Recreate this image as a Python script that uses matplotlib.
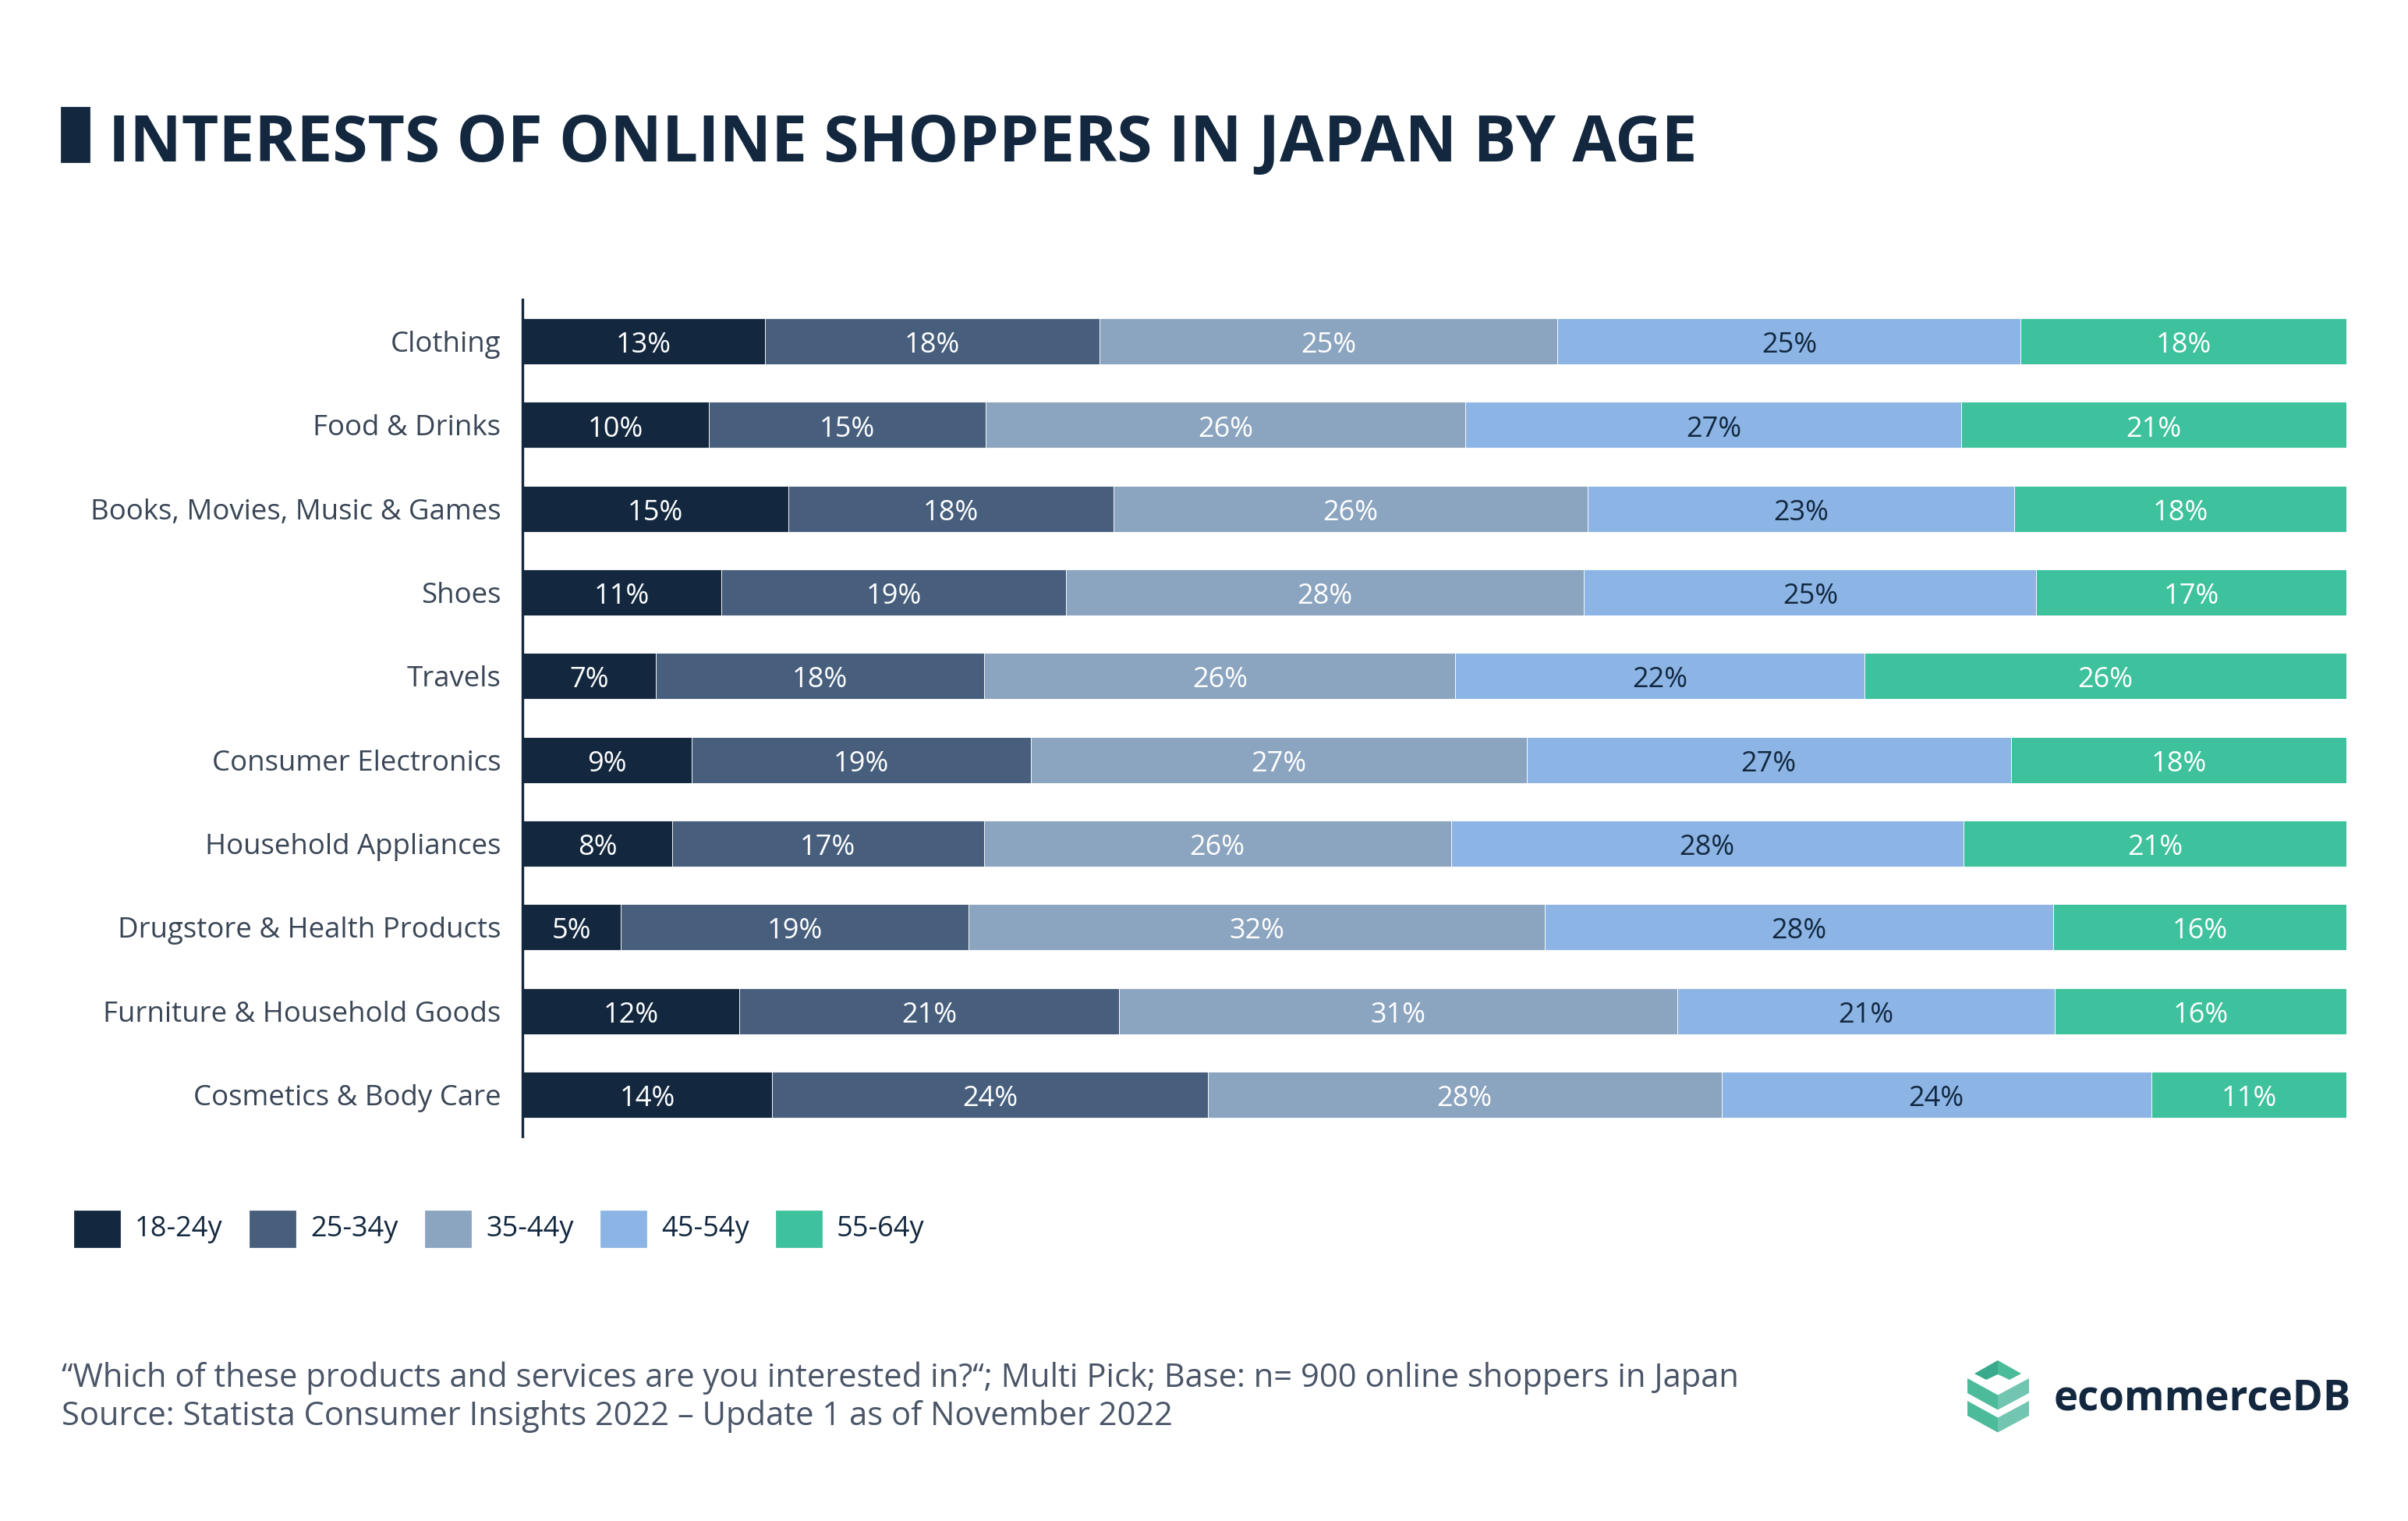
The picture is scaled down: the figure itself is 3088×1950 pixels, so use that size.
import matplotlib.pyplot as plt
from matplotlib.patches import Rectangle, Polygon
import numpy as np

plt.rcParams['font.family'] = ['Open Sans', 'DejaVu Sans']

categories = ['Clothing', 'Food & Drinks', 'Books, Movies, Music & Games', 'Shoes',
              'Travels', 'Consumer Electronics', 'Household Appliances',
              'Drugstore & Health Products', 'Furniture & Household Goods',
              'Cosmetics & Body Care']
ages = ['18-24y', '25-34y', '35-44y', '45-54y', '55-64y']

# share of each age group (%)
age_18_24 = [13.3, 10.2, 14.6, 10.9, 7.3, 9.3, 8.2, 5.4, 11.9, 13.7]
age_25_34 = [18.35, 15.2, 17.8, 18.9, 18.0, 18.6, 17.1, 19.1, 20.8, 23.9]
age_35_44 = [25.1, 26.3, 26.0, 28.4, 25.8, 27.2, 25.6, 31.6, 30.6, 28.2]
age_45_54 = [25.4, 27.2, 23.4, 24.8, 22.4, 26.6, 28.1, 27.9, 20.7, 23.6]
age_55_64 = [17.85, 21.1, 18.2, 17.0, 26.4, 18.4, 21.0, 16.1, 16.0, 10.7]

colors = ['#13283f', '#475f7d', '#8ba4bf', '#8cb5e6', '#3ec19d']
text_colors = ['white', 'white', 'white', '#13283f', 'white']
navy = '#13283f'
W, H = 3088, 1950


def fx(x):
    return x / W


def fy(y):
    return 1 - y / H


fig = plt.figure(figsize=(W / 200, H / 200), dpi=200)
ax = fig.add_axes([fx(670), fy(1457), fx(3009) - fx(670), fy(384) - fy(1457)])

series = [age_18_24, age_25_34, age_35_44, age_45_54, age_55_64]
data = np.array(series)
data = data / data.sum(axis=0) * 100
y = np.arange(len(categories))
left = np.zeros(len(categories))
for i in range(len(ages)):
    bars = ax.barh(y, data[i], left=left, height=0.55, color=colors[i],
                   edgecolor='white', linewidth=0.3, label=ages[i])
    labels = ['%d%%' % round(v) for v in series[i]]
    txts = ax.bar_label(bars, labels=labels, label_type='center', color=text_colors[i],
                        fontsize=13)
    for t in txts:
        t.set_y(-2)
    left += data[i]

ax.set_xlim(0, 100)
ax.set_ylim(len(categories) - 0.5, -0.5)
ax.set_yticks(y)
ax.set_yticklabels(categories, fontsize=13.2, color='#3a4656')
ax.tick_params(axis='y', length=0, pad=10)
ax.set_xticks([])
for s in ['top', 'right', 'bottom']:
    ax.spines[s].set_visible(False)
ax.spines['left'].set_color(navy)
ax.spines['left'].set_linewidth(1.2)

# title
fig.patches.append(Rectangle((fx(79), fy(207)), fx(114) - fx(79), fy(138) - fy(207),
                             transform=fig.transFigure, color=navy))
fig.text(fx(139), fy(207), 'INTERESTS OF ONLINE SHOPPERS IN JAPAN BY AGE', fontsize=29.5,
         fontweight='bold', color=navy, va='baseline')

# legend
for i, (lbl, c) in enumerate(zip(ages, colors)):
    x0 = 96 + i * 225
    fig.patches.append(Rectangle((fx(x0), fy(1598)), fx(57), 45 / H,
                                 transform=fig.transFigure, color=c))
    fig.text(fx(x0 + 77), fy(1576), lbl, fontsize=13, color=navy, va='center')

# footer
fig.text(fx(79), fy(1767), '\u201cWhich of these products and services are you interested in?\u201c; '
         'Multi Pick; Base: n= 900 online shoppers in Japan', fontsize=15, color='#4a5568',
         va='center')
fig.text(fx(79), fy(1816), 'Source: Statista Consumer Insights 2022 \u2013 Update 1 as of November 2022',
         fontsize=15, color='#4a5568', va='center')

# logo
def poly(pts, c):
    fig.patches.append(Polygon([(fx(a), fy(b)) for a, b in pts], closed=True,
                               transform=fig.transFigure, color=c, lw=0))

cx = 2562
poly([(2532, 1761), (cx, 1744), (cx, 1762), (2547, 1769)], '#3aaa8c')
poly([(cx, 1744), (2592, 1761), (2577, 1769), (cx, 1762)], '#4cbb9a')
for top in (1767, 1796):
    poly([(2523, top), (cx, top + 21.5), (cx, top + 40.5), (2523, top + 19)], '#4cbb9a')
    poly([(cx, top + 21.5), (2602, top), (2602, top + 19), (cx, top + 40.5)], '#72c5b0')
fig.text(fx(2634), fy(1808), 'ecommerceDB', fontsize=19, fontweight='bold', color=navy,
         va='baseline')

fig.savefig('out.png', dpi=200, facecolor='white')
